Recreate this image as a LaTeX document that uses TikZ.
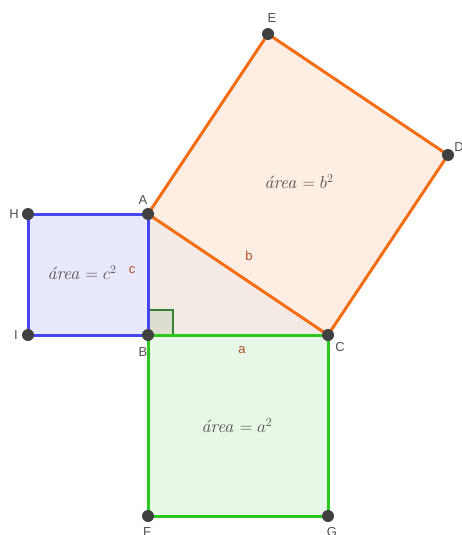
\documentclass[tikz,border=0pt]{standalone}
\usepackage{fontspec}
\usepackage{amsmath}
\setsansfont{Liberation Sans}
\usetikzlibrary{calc}
\definecolor{sqblue}{RGB}{70,70,240}
\definecolor{sqbluefill}{RGB}{232,232,252}
\definecolor{sqorange}{RGB}{245,110,20}
\definecolor{sqorangefill}{RGB}{253,238,228}
\definecolor{sqgreen}{RGB}{45,200,30}
\definecolor{sqgreenfill}{RGB}{232,248,230}
\definecolor{trifill}{RGB}{243,234,230}
\definecolor{angfill}{RGB}{221,221,208}
\definecolor{anggreen}{RGB}{50,130,50}
\definecolor{ptgray}{RGB}{64,64,64}
\definecolor{lblgray}{RGB}{80,80,80}
\definecolor{seglbl}{RGB}{170,80,40}

\begin{document}
\begin{tikzpicture}[
  x=1pt, y=-1pt,
  edge/.style={line width=3pt, line join=round},
  pt/.style={circle, fill=ptgray, inner sep=0pt, minimum size=12pt},
  lbl/.style={text=lblgray, font=\fontsize{13}{15}\sffamily},
  seg/.style={text=seglbl, font=\fontsize{13}{15}\sffamily},
  arealbl/.style={text=lblgray, font=\fontsize{18}{21}\selectfont}
]
\useasboundingbox (0,0) rectangle (461,535);
% vertices
\coordinate (A) at (148,214);
\coordinate (B) at (148,335);
\coordinate (C) at (328,335);
\coordinate (E) at (268,34);
\coordinate (D) at (448,155);
\coordinate (H) at (28,214);
\coordinate (I) at (28,335);
\coordinate (F) at (148,516);
\coordinate (G) at (328,516);
% fills
\fill[sqbluefill] (H) -- (A) -- (B) -- (I) -- cycle;
\fill[sqorangefill] (A) -- (E) -- (D) -- (C) -- cycle;
\fill[sqgreenfill] (B) -- (C) -- (G) -- (F) -- cycle;
\fill[trifill] (A) -- (B) -- (C) -- cycle;
% right angle
\draw[anggreen, line width=1.8pt, fill=angfill] (B) rectangle ($(B)+(25,-25)$);
% squares
\draw[edge, sqblue] (H) -- (A) -- (B) -- (I) -- cycle;
\draw[edge, sqorange] (A) -- (E) -- (D) -- (C) -- cycle;
\draw[edge, sqgreen] (B) -- (C) -- (G) -- (F) -- cycle;
% points
\foreach \p in {A,B,C,D,E,F,G,H,I}
  \node[pt] (p\p) at (\p) {};
% point names
\node[lbl] (lA) at (143,200) {A};
\node[lbl] (lB) at (143,352) {B};
\node[lbl] (lC) at (340,347) {C};
\node[lbl] (lD) at (459,147) {D};
\node[lbl] (lE) at (272,18) {E};
\node[lbl] (lF) at (147,532) {F};
\node[lbl] (lG) at (332,532) {G};
\node[lbl] (lH) at (14,214) {H};
\node[lbl] (lI) at (16,335) {I};
% sides
\node[seg] (sa) at (242,350) {a};
\node[seg] (sb) at (249,256) {b};
\node[seg] (sc) at (132,270) {c};
% areas
\node[arealbl] (ac) at (82,273) {\itshape área $= c^2$};
\node[arealbl] (ab) at (299,182) {\itshape área $= b^2$};
\node[arealbl] (aa) at (237,426) {\itshape área $= a^2$};
\end{tikzpicture}
\end{document}
